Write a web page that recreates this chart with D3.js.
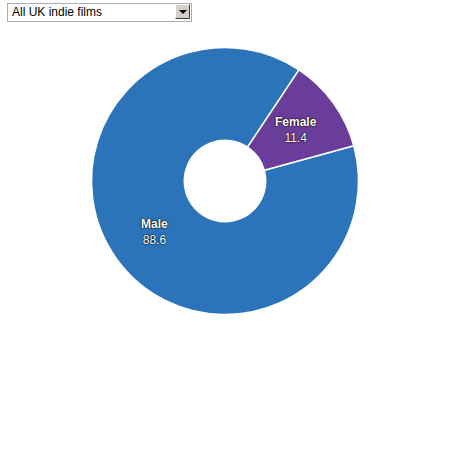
<!DOCTYPE html>
<html>
<head>
<meta charset="utf-8">
<script src="https://cdn.jsdelivr.net/npm/d3@7"></script>
<style>
  html, body { margin: 0; padding: 0; background: #fff; }
  body { width: 460px; height: 450px; position: relative; overflow: hidden; font-family: Arial, "Liberation Sans", sans-serif; }
  #picker { position: absolute; left: 7px; top: 2px; width: 185px; height: 19px; }
  #picker select {
    -webkit-appearance: none; appearance: none;
    width: 185px; height: 19px; margin: 0; padding: 0 0 0 4px;
    border: 1px solid #a5acb2; border-radius: 0; background: #fff;
    font: 12px Arial, "Liberation Sans", sans-serif; color: #000; box-sizing: border-box;
    outline: none;
  }
  #picker .btn {
    position: absolute; right: 2px; top: 2px; width: 15px; height: 15px; box-sizing: border-box;
    background: #d4d0c8; border-top: 1px solid #fff; border-left: 1px solid #fff;
    border-right: 1px solid #404040; border-bottom: 1px solid #404040; pointer-events: none;
  }
  #picker .btn:after {
    content: ""; position: absolute; left: 3px; top: 5px;
    border-left: 4px solid transparent; border-right: 4px solid transparent; border-top: 4px solid #000;
  }
  svg { position: absolute; left: 0; top: 0; }
  .lbl { fill: #fff; font-family: Arial, "Liberation Sans", sans-serif; font-size: 12px; text-anchor: middle;
         text-shadow: 0 0 2px #000, 0 0 1px #000; }
  .lbl .name { font-weight: bold; }
</style>
</head>
<body>
<div id="picker">
  <select id="sel"></select>
  <span class="btn"></span>
</div>
<svg id="chart" width="460" height="450"></svg>
<script>
const options = ["All UK indie films"];
const categories = ["Male", "Female"];
const values = [88.6, 11.4];
const colors = ["#2b74b9", "#6b3d9a"];

d3.select("#sel").selectAll("option").data(options).join("option").text(d => d);

const svg = d3.select("#chart");
const cx = 225, cy = 181, outerR = 133.5, innerR = 40.7;
const g = svg.append("g").attr("transform", `translate(${cx},${cy})`);

const data = categories.map((c, i) => ({ name: c, value: values[i], color: colors[i] }));
const start = 74.7 * Math.PI / 180;
const pie = d3.pie().value(d => d.value).sort(null).startAngle(start).endAngle(start + 2 * Math.PI);
const arc = d3.arc().innerRadius(innerR).outerRadius(outerR);
const arcs = pie(data);

g.selectAll("path").data(arcs).join("path")
  .attr("d", arc)
  .attr("fill", d => d.data.color)
  .attr("stroke", "#fff")
  .attr("stroke-width", 1.5);

const lab = g.selectAll("text").data(arcs).join("text")
  .attr("class", "lbl")
  .attr("transform", d => `translate(${arc.centroid(d)})`);
lab.append("tspan").attr("class", "name").attr("x", 0).attr("y", -4).text(d => d.data.name);
lab.append("tspan").attr("x", 0).attr("y", 12).text(d => d.data.value.toFixed(1));
</script>
</body>
</html>
